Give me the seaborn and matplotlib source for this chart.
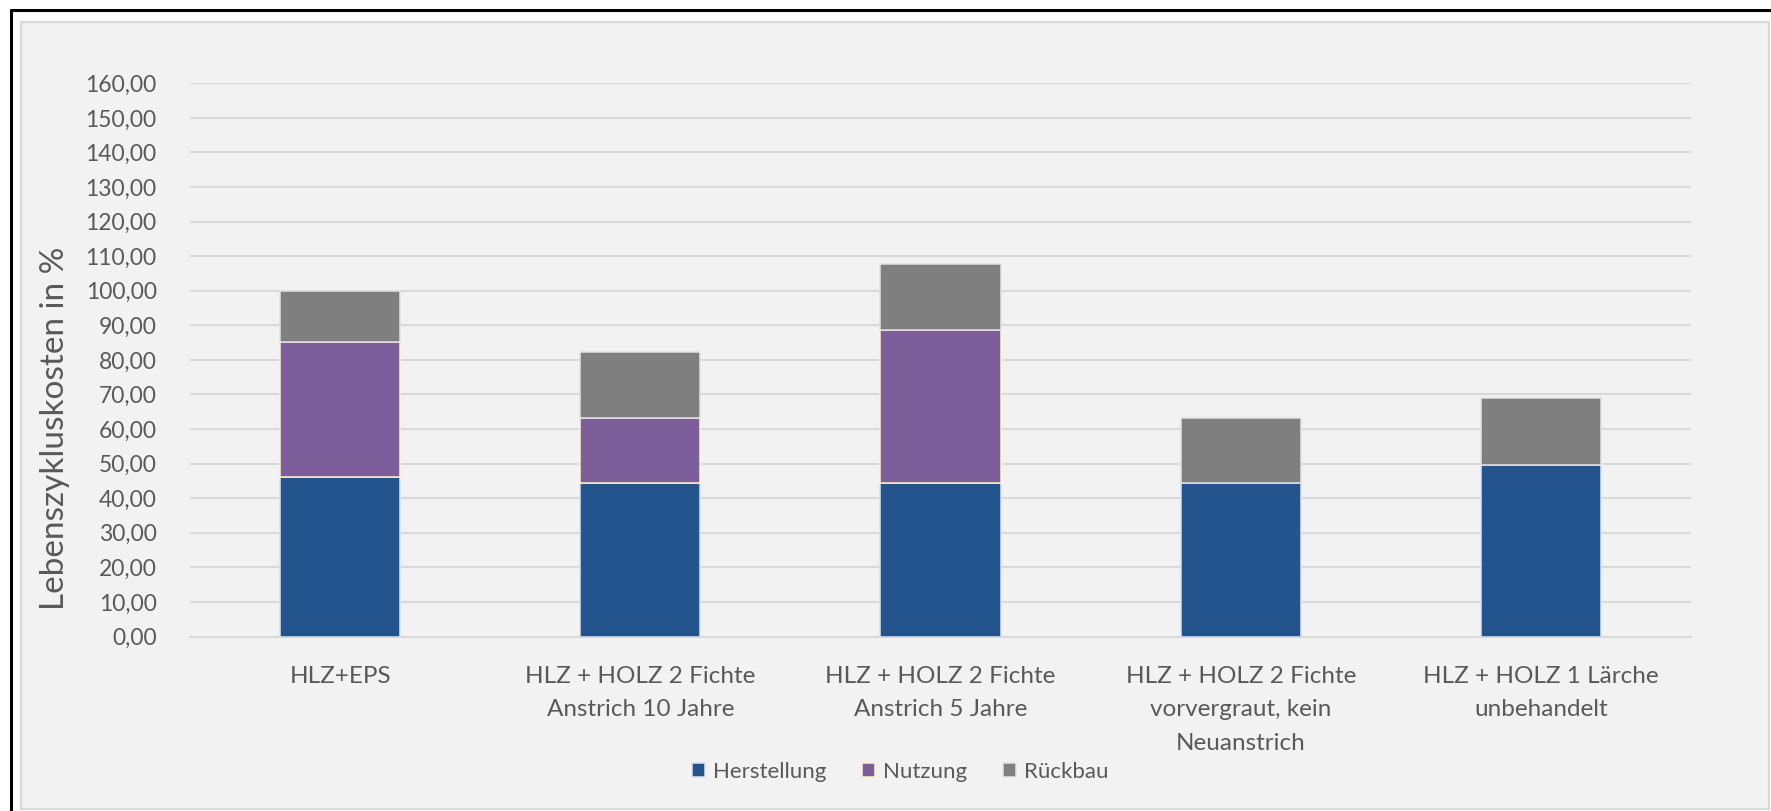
import numpy as np
import pandas as pd
import matplotlib
matplotlib.use("Agg")
import matplotlib.pyplot as plt
import seaborn as sns
from matplotlib.patches import Rectangle, Patch
from matplotlib.lines import Line2D

# ---------------- data ----------------
categories = [
    "HLZ+EPS",
    "HLZ + HOLZ 2 Fichte\nAnstrich 10 Jahre",
    "HLZ + HOLZ 2 Fichte\nAnstrich 5 Jahre",
    "HLZ + HOLZ 2 Fichte\nvorvergraut, kein\nNeuanstrich",
    "HLZ + HOLZ 1 Lärche\nunbehandelt",
]
herstellung = [46.1, 44.3, 44.5, 44.4, 49.7]
nutzung = [39.1, 18.9, 44.1, 0.0, 0.0]
rueckbau = [14.6, 19.0, 19.1, 18.9, 19.4]
series_names = ["Herstellung", "Nutzung", "Rückbau"]
yticks = np.arange(0, 161, 10)
ytick_labels = [f"{v:.2f}".replace(".", ",") for v in yticks]
y_label = "Lebenszykluskosten in %"

# ---------------- style ----------------
sns.set_style("white")
plt.rcParams["font.family"] = ["Lato", "DejaVu Sans"]

W, H = 1771, 811
fig = plt.figure(figsize=(W / 100, H / 100), dpi=100, facecolor="white")

# chart area frames
fig.patches.append(Rectangle((21 / W, 1 - 809 / H), (1769 - 21) / W, (809 - 22) / H,
                             transform=fig.transFigure, facecolor="#f2f2f2",
                             edgecolor="#d9d9d9", lw=1.5, zorder=-10))
fig.lines.append(Line2D([11 / W, 11 / W], [0, 1 - 10 / H], transform=fig.transFigure,
                        color="black", lw=2.2, zorder=-9))
fig.lines.append(Line2D([11 / W, 1], [1 - 10 / H, 1 - 10 / H], transform=fig.transFigure,
                        color="black", lw=2.2, zorder=-9))

ax = fig.add_axes([190 / W, 1 - 636.5 / H, 1501 / W, 553.2 / H])
ax.set_facecolor("none")
ax.set_zorder(1)

df = pd.DataFrame({
    "Kategorie": categories,
    "Herstellung": herstellung,
    "Nutzung": nutzung,
    "Rückbau": rueckbau,
})

colors = {"Herstellung": "#23548e", "Nutzung": "#7b5e9a", "Rückbau": "#7f7f7f"}
edges = {"Herstellung": "#dae3f3", "Nutzung": "#fff2cc", "Rückbau": "#e3e3e3"}

bottom = np.zeros(len(categories))
for name in series_names:
    n_before = len(ax.patches)
    sns.barplot(data=df, x="Kategorie", y=name, color=colors[name], saturation=1,
                width=0.4, errorbar=None, bottom=list(bottom), edgecolor=edges[name],
                linewidth=1.1, ax=ax, zorder=3)
    for p in ax.patches[n_before:]:
        if p.get_height() == 0:
            p.set_visible(False)
    bottom = bottom + df[name].to_numpy()

ax.set_ylim(0, 160)
ax.set_yticks(yticks)
ax.set_yticklabels(ytick_labels)
ax.yaxis.grid(True, color="#d9d9d9", lw=1.5, zorder=0)
ax.set_axisbelow(True)
for s in ["top", "right", "left"]:
    ax.spines[s].set_visible(False)
ax.spines["bottom"].set_color("#d9d9d9")
ax.spines["bottom"].set_linewidth(1.5)

ax.tick_params(axis="both", length=0, colors="#595959", labelsize=16.5)
ax.tick_params(axis="x", labelsize=17.5, pad=21)
ax.tick_params(axis="y", pad=24)
for t in ax.get_xticklabels():
    t.set_linespacing(1.75)

ax.set_xlabel("")
ax.set_ylabel(y_label, fontsize=24, color="#595959", va="center")
ax.yaxis.set_label_coords(-0.09, 0.376)

handles = [Patch(facecolor=colors[n], edgecolor=edges[n], lw=1.1, label=n) for n in series_names]
fig.legend(handles=handles, loc="center", bbox_to_anchor=(900 / W, 1 - 772 / H), ncol=3,
           frameon=False, fontsize=16, labelcolor="#595959", handlelength=0.6,
           handleheight=0.6, handletextpad=0.35, columnspacing=1.6)

fig.savefig("out.png", dpi=100, facecolor=fig.get_facecolor())
